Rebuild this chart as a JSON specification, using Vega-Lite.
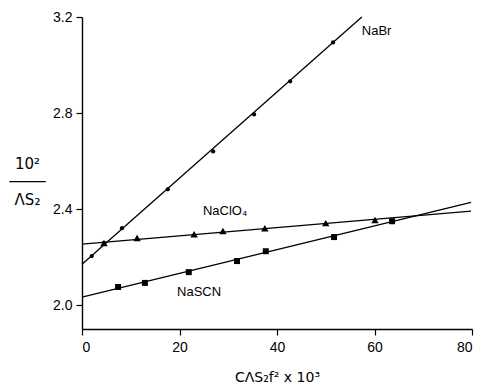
{
  "$schema": "https://vega.github.io/schema/vega-lite/v6.json",
  "autosize": {"type": "none"},
  "width": 390,
  "height": 312,
  "padding": {"left": 82, "top": 17, "right": 9, "bottom": 56},
  "background": "white",
  "config": {
    "view": {"stroke": null},
    "font": "DejaVu Sans",
    "axis": {"grid": false, "domainColor": "black", "tickColor": "black", "labelColor": "black", "titleColor": "black", "domainWidth": 1.4, "tickWidth": 1.2, "labelFontSize": 14, "labelFont": "Liberation Sans", "titleFont": "DejaVu Sans", "titleFontWeight": "normal"}
  },
  "datasets": {
    "points": [
      {"salt": "NaBr", "c": 2.0, "v": 2.204},
      {"salt": "NaBr", "c": 4.5, "v": 2.258},
      {"salt": "NaBr", "c": 8.2, "v": 2.32},
      {"salt": "NaBr", "c": 17.6, "v": 2.482},
      {"salt": "NaBr", "c": 26.9, "v": 2.64},
      {"salt": "NaBr", "c": 35.3, "v": 2.794},
      {"salt": "NaBr", "c": 42.7, "v": 2.932},
      {"salt": "NaBr", "c": 51.5, "v": 3.094},
      {"salt": "NaClO4", "c": 4.5, "v": 2.258},
      {"salt": "NaClO4", "c": 11.3, "v": 2.279},
      {"salt": "NaClO4", "c": 23.0, "v": 2.295},
      {"salt": "NaClO4", "c": 28.9, "v": 2.308},
      {"salt": "NaClO4", "c": 37.5, "v": 2.32},
      {"salt": "NaClO4", "c": 50.0, "v": 2.341},
      {"salt": "NaClO4", "c": 60.1, "v": 2.354},
      {"salt": "NaSCN", "c": 7.4, "v": 2.075},
      {"salt": "NaSCN", "c": 12.9, "v": 2.092},
      {"salt": "NaSCN", "c": 21.9, "v": 2.137},
      {"salt": "NaSCN", "c": 31.8, "v": 2.183},
      {"salt": "NaSCN", "c": 37.7, "v": 2.224},
      {"salt": "NaSCN", "c": 51.7, "v": 2.283},
      {"salt": "NaSCN", "c": 63.6, "v": 2.349}
    ],
    "lines": [
      {"salt": "NaBr", "c1": 0, "v1": 2.17, "c2": 57.4, "v2": 3.2},
      {"salt": "NaClO4", "c1": 0, "v1": 2.254, "c2": 79.8, "v2": 2.391},
      {"salt": "NaSCN", "c1": 0, "v1": 2.033, "c2": 79.8, "v2": 2.428}
    ],
    "labels": [
      {"text": "NaBr", "c": 57.4, "v": 3.14},
      {"text": "NaClO₄", "c": 24.8, "v": 2.39},
      {"text": "NaSCN", "c": 19.5, "v": 2.054}
    ]
  },
  "layer": [
    {
      "data": {"name": "lines"},
      "mark": {"type": "rule", "color": "black", "strokeWidth": 1.3},
      "encoding": {
        "x": {"field": "c1", "type": "quantitative", "scale": {"domain": [0, 80], "nice": false}, "axis": {"values": [0, 20, 40, 60, 80], "title": "CΛS₂f²  x  10³", "titleFontSize": 14, "titleY": 48, "titleBaseline": "middle", "tickSize": 6, "labelPadding": 5}},
        "y": {"field": "v1", "type": "quantitative", "scale": {"domain": [1.9, 3.2], "nice": false, "zero": false}, "axis": {"values": [2.0, 2.4, 2.8, 3.2], "format": ".1f", "tickSize": 6, "labelPadding": 4, "title": ["10²", "────", "ΛS₂"], "titleAngle": 0, "titleFontSize": 15, "titleLineHeight": 18, "titleX": -55, "titleY": 146, "titleAlign": "center", "titleBaseline": "middle"}},
        "x2": {"field": "c2"},
        "y2": {"field": "v2"}
      }
    },
    {
      "data": {"name": "points"},
      "transform": [{"filter": "datum.salt === 'NaBr'"}],
      "mark": {"type": "point", "shape": "circle", "filled": true, "color": "black", "opacity": 1, "size": 18},
      "encoding": {
        "x": {"field": "c", "type": "quantitative"},
        "y": {"field": "v", "type": "quantitative"}
      }
    },
    {
      "data": {"name": "points"},
      "transform": [{"filter": "datum.salt === 'NaClO4'"}],
      "mark": {"type": "point", "shape": "triangle-up", "filled": true, "color": "black", "opacity": 1, "size": 55},
      "encoding": {
        "x": {"field": "c", "type": "quantitative"},
        "y": {"field": "v", "type": "quantitative"}
      }
    },
    {
      "data": {"name": "points"},
      "transform": [{"filter": "datum.salt === 'NaSCN'"}],
      "mark": {"type": "point", "shape": "square", "filled": true, "color": "black", "opacity": 1, "size": 36},
      "encoding": {
        "x": {"field": "c", "type": "quantitative"},
        "y": {"field": "v", "type": "quantitative"}
      }
    },
    {
      "data": {"name": "labels"},
      "mark": {"type": "text", "align": "left", "baseline": "middle", "fontSize": 13, "color": "black", "font": "Liberation Sans"},
      "encoding": {
        "x": {"field": "c", "type": "quantitative"},
        "y": {"field": "v", "type": "quantitative"},
        "text": {"field": "text"}
      }
    }
  ]
}
